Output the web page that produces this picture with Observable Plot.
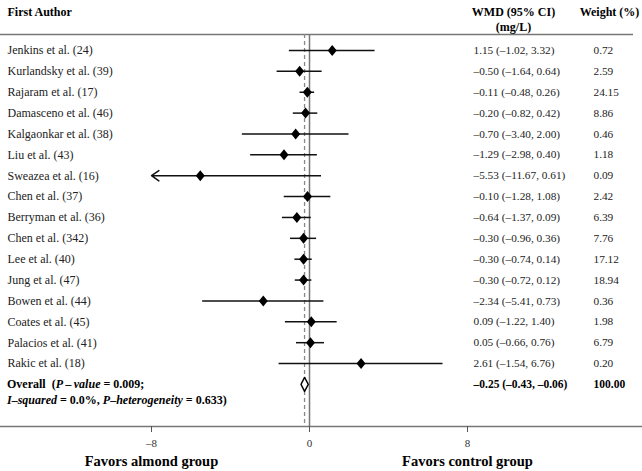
<!DOCTYPE html>
<html><head><meta charset="utf-8">
<script src="https://cdn.jsdelivr.net/npm/d3@7"></script>
<script src="https://cdn.jsdelivr.net/npm/@observablehq/plot@0.6"></script>
<style>body{margin:0;background:#fff}svg{display:block}</style>
</head><body><div id="chart"></div>
<script>
// ---- data ----
const studies = ["Jenkins et al. (24)","Kurlandsky et al. (39)","Rajaram et al. (17)","Damasceno et al. (46)","Kalgaonkar et al. (38)","Liu et al. (43)","Sweazea et al. (16)","Chen et al. (37)","Berryman et al. (36)","Chen et al. (342)","Lee et al. (40)","Jung et al. (47)","Bowen et al. (44)","Coates et al. (45)","Palacios et al. (41)","Rakic et al. (18)"];
const estimates = [1.15,-0.50,-0.11,-0.20,-0.70,-1.29,-5.53,-0.10,-0.64,-0.30,-0.30,-0.30,-2.34,0.09,0.05,2.61];
const lowerCI = [-1.02,-1.64,-0.48,-0.82,-3.40,-2.98,-11.67,-1.28,-1.37,-0.96,-0.74,-0.72,-5.41,-1.22,-0.66,-1.54];
const upperCI = [3.32,0.64,0.26,0.42,2.00,0.40,0.61,1.08,0.09,0.36,0.14,0.12,0.73,1.40,0.76,6.76];
const weights = [0.72,2.59,24.15,8.86,0.46,1.18,0.09,2.42,6.39,7.76,17.12,18.94,0.36,1.98,6.79,0.20];
const overallEst = -0.25, overallLo = -0.43, overallHi = -0.06, overallWeight = 100.00;
const xTicks = [-8, 0, 8];
const xAxisLabels = ["Favors almond group", "Favors control group"];
const xAxisLabelAt = [-8, 8];
const displayMin = -8;

// ---- layout helpers (pixel -> scale units) ----
const W = 642, H = 471;
const x0px = 309, pxPerUnit = 19.75;
const row0px = 50, rowStep = 20.87;
const xv = p => (p - x0px) / pxPerUnit;
const yr = p => (p - row0px) / rowStep;
const fmt = v => (v < 0 ? "\u2013" : "") + Math.abs(v).toFixed(2);

const rows = studies.map((s, i) => ({
  study: s, i, est: estimates[i], lo: lowerCI[i], hi: upperCI[i], w: weights[i],
  loShown: Math.max(lowerCI[i], displayMin), clipped: lowerCI[i] < displayMin,
  label: `${fmt(estimates[i])} (${fmt(lowerCI[i])}, ${fmt(upperCI[i])})`
}));
const overallRow = studies.length; // row index 16
const dh = 0.335;
const diamond = [
  {x: overallLo, y: overallRow}, {x: overallEst, y: overallRow - dh},
  {x: overallHi, y: overallRow}, {x: overallEst, y: overallRow + dh},
  {x: overallLo, y: overallRow}
];
const diamondSymbol = {
  draw(ctx) { ctx.moveTo(0, -5.5); ctx.lineTo(4.5, 0); ctx.lineTo(0, 5.5); ctx.lineTo(-4.5, 0); ctx.closePath(); }
};

const yTop = yr(34), yAxis = yr(426);
const font = "Liberation Serif";

const plot = Plot.plot({
  width: W, height: H,
  marginLeft: 0, marginRight: 0, marginTop: 0, marginBottom: 0,
  x: {domain: [xv(0), xv(W)], range: [0, W], axis: null},
  y: {domain: [yr(0), yr(H)], range: [0, H], axis: null},
  style: {fontFamily: font, fontSize: "12px", color: "#000", background: "#fff"},
  marks: [
    // header line & axis line
    Plot.ruleY([yTop], {x1: xv(0), x2: xv(633), stroke: "#777", strokeWidth: 1.6}),
    Plot.ruleY([yAxis], {x1: xv(0), x2: xv(W), stroke: "#777", strokeWidth: 1.6}),
    // reference lines
    Plot.ruleX([0], {y1: yTop, y2: yAxis, stroke: "#777", strokeWidth: 1.5}),
    Plot.ruleX([overallEst], {y1: yTop, y2: yAxis, stroke: "#888", strokeWidth: 1.3, strokeDasharray: "4,3"}),
    // ticks
    Plot.ruleX(xTicks, {y1: yAxis, y2: yr(432), stroke: "#555", strokeWidth: 1}),
    Plot.text(xTicks, {x: d => d, y: yr(443), text: d => d === 0 ? "0" : (d < 0 ? "\u2013" : "") + Math.abs(d), fontSize: 11, fill: "#333"}),
    Plot.text(xAxisLabels, {x: (d, i) => xAxisLabelAt[i], y: yr(461), text: d => d, fontSize: 14.5, fontWeight: "bold"}),
    // CIs
    Plot.ruleY(rows.filter(d => !d.clipped), {y: "i", x1: "loShown", x2: "hi", stroke: "#111", strokeWidth: 1.5}),
    Plot.ruleY(rows.filter(d => d.clipped), {y: "i", x1: "est", x2: "hi", stroke: "#111", strokeWidth: 1.5}),
    Plot.arrow(rows.filter(d => d.clipped), {x1: "est", x2: "loShown", y1: "i", y2: "i", stroke: "#111", strokeWidth: 1.5, headLength: 9, headAngle: 70}),
    Plot.dot(rows, {x: "est", y: "i", symbol: diamondSymbol, fill: "#000", stroke: "none"}),
    // overall diamond
    Plot.line(diamond, {x: "x", y: "y", fill: "#fff", stroke: "#000", strokeWidth: 1.4}),
    // headers
    Plot.text(["First Author"], {x: xv(7), y: yr(11.5), text: d => d, textAnchor: "start", fontWeight: "bold"}),
    Plot.text(["WMD (95% CI)"], {x: xv(513), y: yr(12), text: d => d, fontWeight: "bold"}),
    Plot.text(["(mg/L)"], {x: xv(513), y: yr(26.5), text: d => d, fontWeight: "bold"}),
    Plot.text(["Weight (%)"], {x: xv(609), y: yr(12), text: d => d, fontWeight: "bold"}),
    // study rows
    Plot.text(rows, {x: xv(7), y: "i", text: "study", textAnchor: "start", fill: "#222"}),
    Plot.text(rows, {x: xv(473), y: "i", text: "label", textAnchor: "start", fill: "#222", fontSize: 11.3}),
    Plot.text(rows, {x: xv(593), y: "i", text: d => d.w.toFixed(2), textAnchor: "start", fill: "#222", fontSize: 11.3}),
    // overall values
    Plot.text([`${fmt(overallEst)} (${fmt(overallLo)}, ${fmt(overallHi)})`], {x: xv(473), y: overallRow, text: d => d, textAnchor: "start", fontWeight: "bold", fontSize: 11.5}),
    Plot.text([overallWeight.toFixed(2)], {x: xv(593), y: overallRow, text: d => d, textAnchor: "start", fontWeight: "bold", fontSize: 11.5})
  ]
});

// rich-text overall label
const sx = plot.scale("x"), sy = plot.scale("y");
const svg = d3.select(plot);
const lines = [
  [["Overall  (", ""], ["P\u2009\u2013\u2009value", "italic"], [" = 0.009;", ""]],
  [["I\u2013squared", "italic"], [" = 0.0%, ", ""], ["P\u2013heterogeneity", "italic"], [" = 0.633)", ""]]
];
lines.forEach((parts, li) => {
  const t = svg.append("text")
    .attr("x", sx.apply(xv(7)))
    .attr("y", sy.apply(overallRow) + li * 16)
    .attr("dy", "0.32em")
    .attr("text-anchor", "start")
    .attr("font-family", font).attr("font-size", 12).attr("font-weight", "bold");
  parts.forEach(([s, st]) => t.append("tspan").attr("font-style", st || null).text(s));
});

document.getElementById("chart").appendChild(plot);
</script>
</body></html>
